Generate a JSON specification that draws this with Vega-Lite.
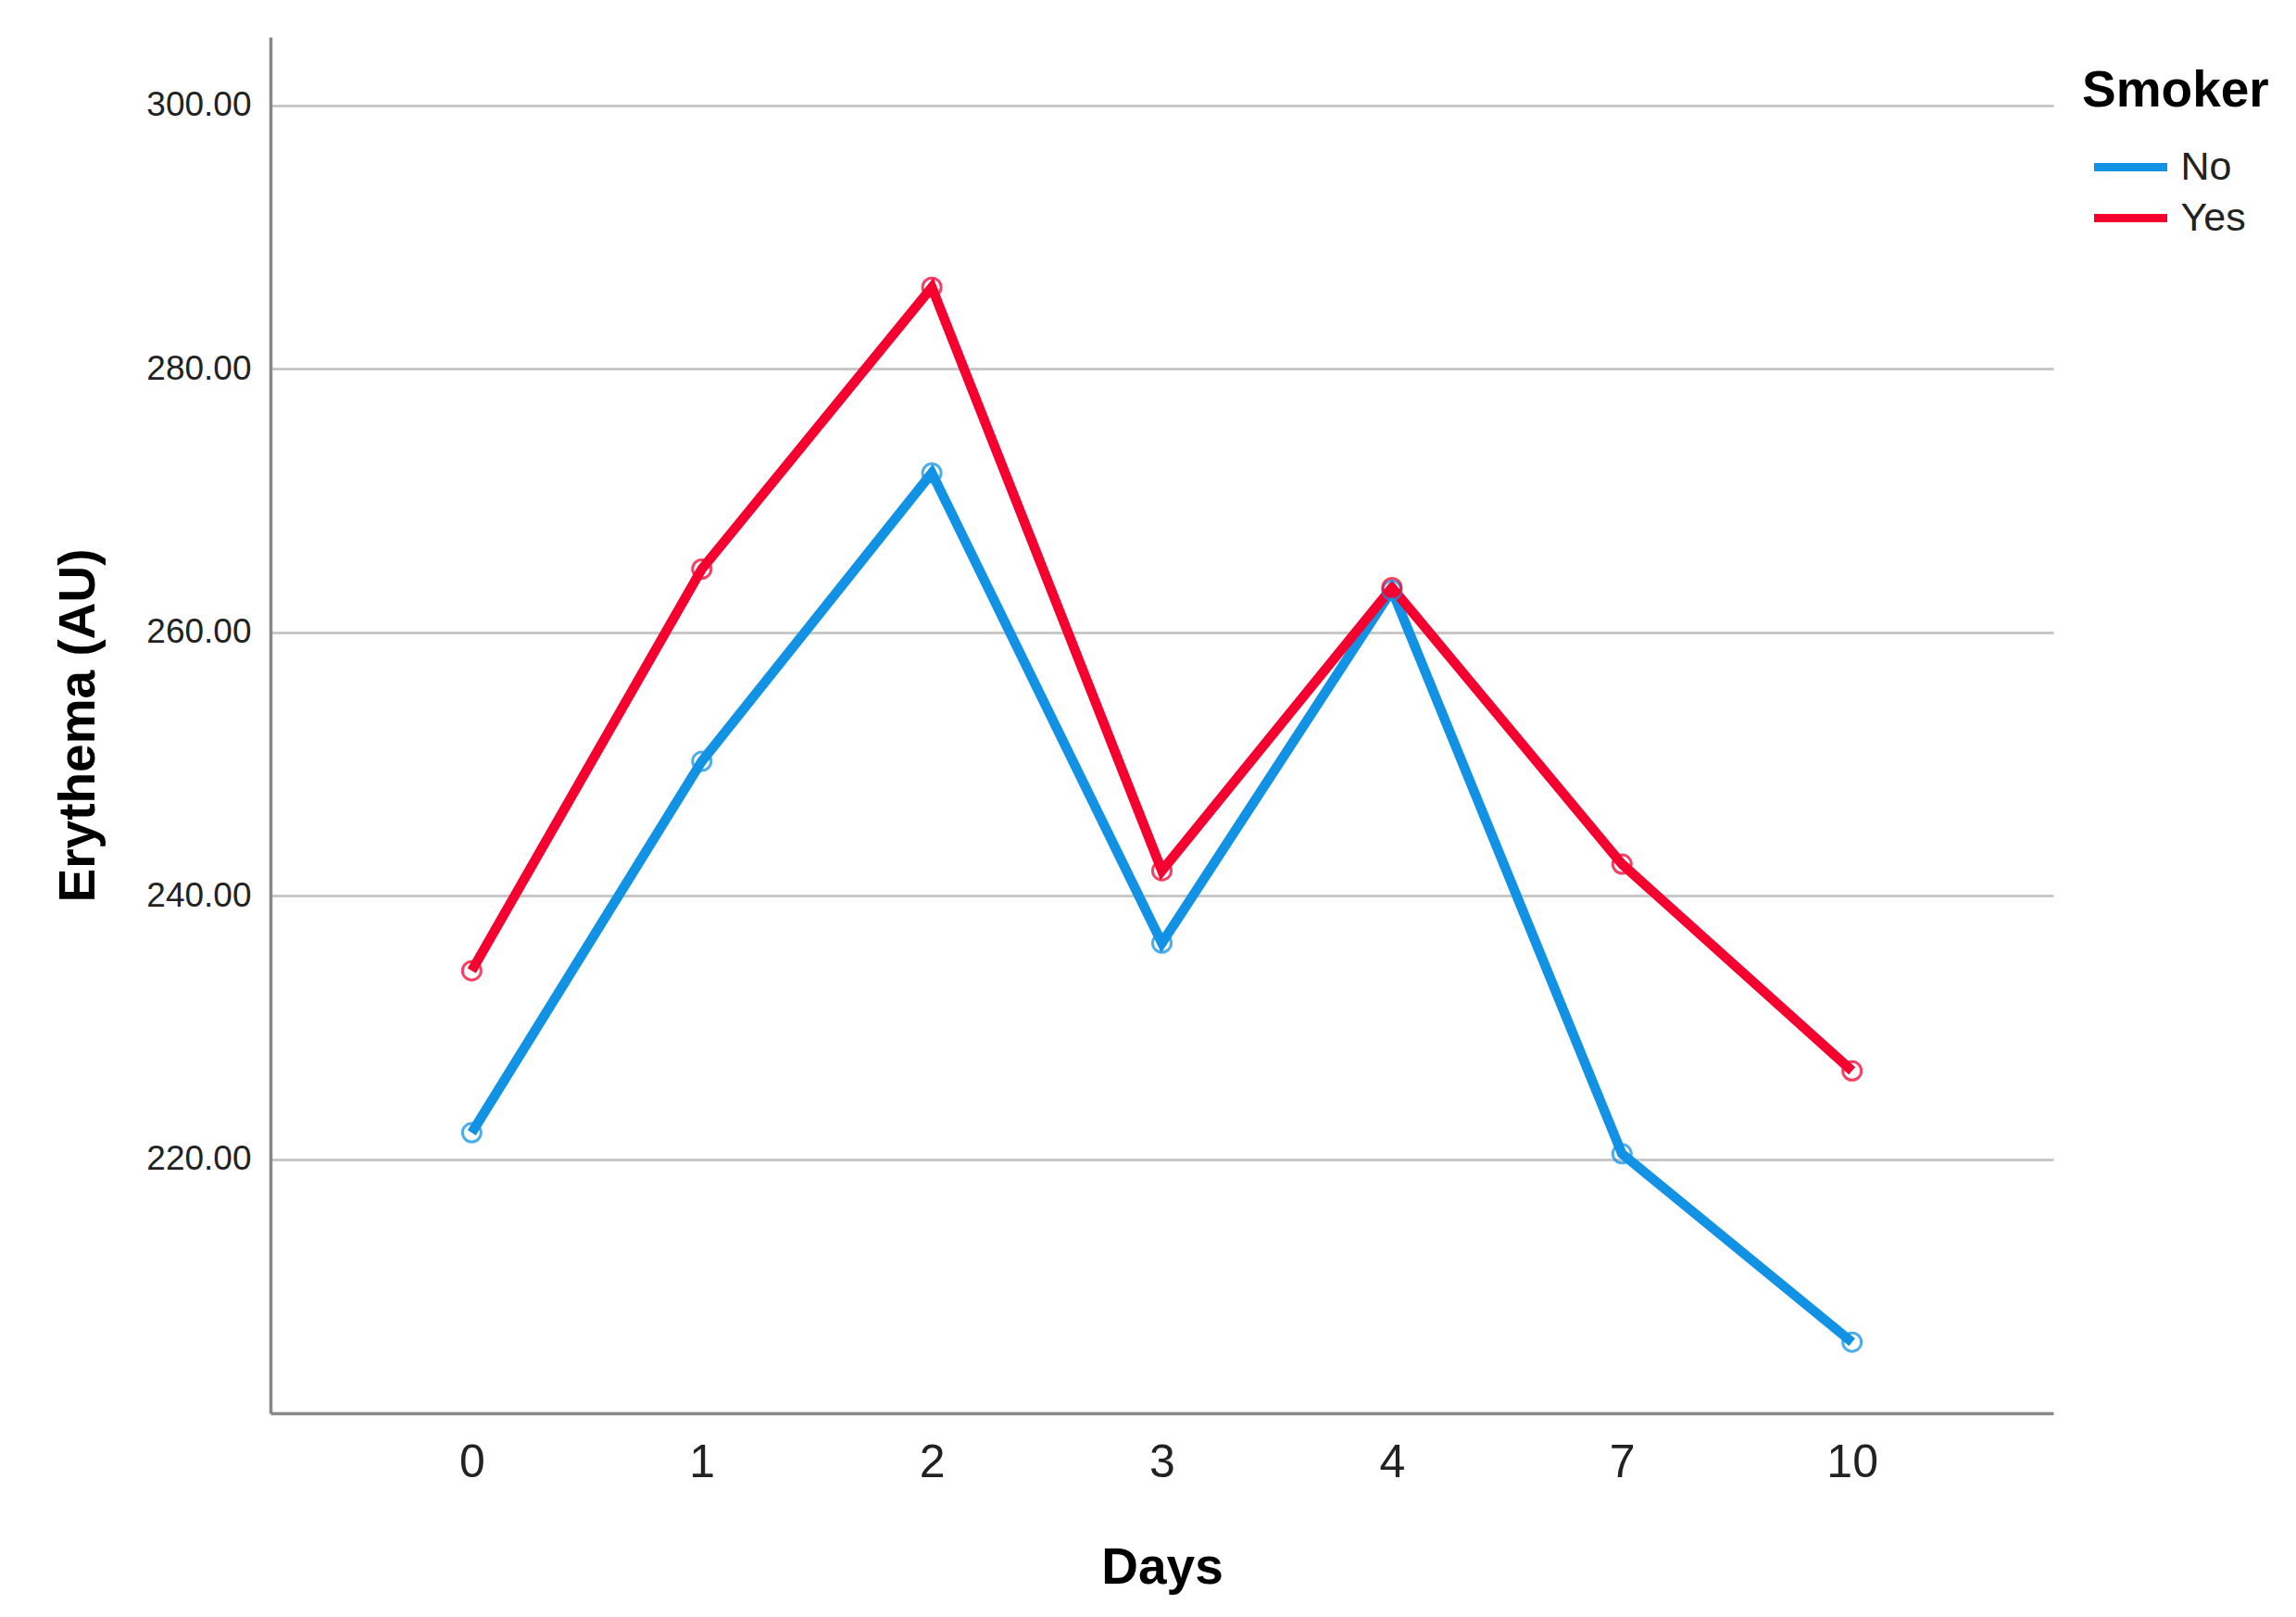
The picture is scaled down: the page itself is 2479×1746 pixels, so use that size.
{
  "$schema": "https://vega.github.io/schema/vega-lite/v6.json",
  "autosize": "none",
  "padding": {"left": 292, "top": 40, "right": 262, "bottom": 220},
  "width": 1925,
  "height": 1486,
  "background": "white",
  "config": {
    "view": {"stroke": null},
    "font": "Liberation Sans"
  },
  "data": {
    "values": [
      {"Days": "0", "Smoker": "No", "Erythema": 222.0},
      {"Days": "1", "Smoker": "No", "Erythema": 250.2},
      {"Days": "2", "Smoker": "No", "Erythema": 272.1},
      {"Days": "3", "Smoker": "No", "Erythema": 236.4},
      {"Days": "4", "Smoker": "No", "Erythema": 263.2},
      {"Days": "7", "Smoker": "No", "Erythema": 220.4},
      {"Days": "10", "Smoker": "No", "Erythema": 206.1},
      {"Days": "0", "Smoker": "Yes", "Erythema": 234.3},
      {"Days": "1", "Smoker": "Yes", "Erythema": 264.8},
      {"Days": "2", "Smoker": "Yes", "Erythema": 286.2},
      {"Days": "3", "Smoker": "Yes", "Erythema": 241.9},
      {"Days": "4", "Smoker": "Yes", "Erythema": 263.4},
      {"Days": "7", "Smoker": "Yes", "Erythema": 242.4},
      {"Days": "10", "Smoker": "Yes", "Erythema": 226.7}
    ]
  },
  "encoding": {
    "x": {
      "field": "Days",
      "type": "ordinal",
      "scale": {"type": "point", "domain": ["0", "1", "2", "3", "4", "7", "10"], "padding": 0.875},
      "axis": {
        "title": "Days",
        "titleFontSize": 55,
        "titleFontWeight": "bold",
        "titleColor": "#000000",
        "titleY": 166,
        "titleBaseline": "middle",
        "labelAngle": 0,
        "labelFontSize": 50,
        "labelColor": "#222222",
        "labelBaseline": "middle",
        "labelPadding": 53,
        "ticks": false,
        "grid": false,
        "domainColor": "#888888",
        "domainWidth": 3.5
      }
    },
    "y": {
      "field": "Erythema",
      "type": "quantitative",
      "scale": {"domain": [200.7, 305.2], "nice": false, "zero": false},
      "axis": {
        "title": "Erythema (AU)",
        "titleFontSize": 55,
        "titleFontWeight": "bold",
        "titleColor": "#000000",
        "titleX": -208,
        "titleY": 743,
        "titleAngle": -90,
        "titleAlign": "center",
        "titleBaseline": "middle",
        "values": [220, 240, 260, 280, 300],
        "format": ".2f",
        "labelFontSize": 37,
        "labelColor": "#222222",
        "labelPadding": 21,
        "ticks": false,
        "grid": true,
        "gridColor": "#c8c8c8",
        "gridWidth": 3,
        "domainColor": "#888888",
        "domainWidth": 3.5
      }
    },
    "color": {
      "field": "Smoker",
      "type": "nominal",
      "scale": {"domain": ["No", "Yes"], "range": ["#1192E5", "#F5002F"]}
    }
  },
  "layer": [
    {
      "mark": {"type": "line", "strokeWidth": 10.5},
      "encoding": {
        "color": {
          "field": "Smoker",
          "type": "nominal",
          "scale": {"domain": ["No", "Yes"], "range": ["#1192E5", "#F5002F"]},
          "legend": {
            "title": "Smoker",
            "orient": "none",
            "legendX": 1956,
            "legendY": 32,
            "padding": 0,
            "titleFontSize": 55,
            "titleFontWeight": "bold",
            "titleColor": "#000000",
            "titleLimit": 500,
            "titlePadding": 29,
            "labelFontSize": 43,
            "labelColor": "#222222",
            "labelOffset": 29.5,
            "labelLimit": 300,
            "symbolType": "M-2,0H2",
            "symbolSize": 1560,
            "symbolOffset": 28,
            "symbolStrokeWidth": 9,
            "rowPadding": 8
          }
        }
      }
    },
    {
      "mark": {"type": "point", "filled": false, "size": 400, "strokeWidth": 3, "opacity": 0.75},
      "encoding": {
        "color": {
          "field": "Smoker",
          "type": "nominal",
          "scale": {"domain": ["No", "Yes"], "range": ["#1192E5", "#F5002F"]},
          "legend": null
        }
      }
    }
  ]
}
